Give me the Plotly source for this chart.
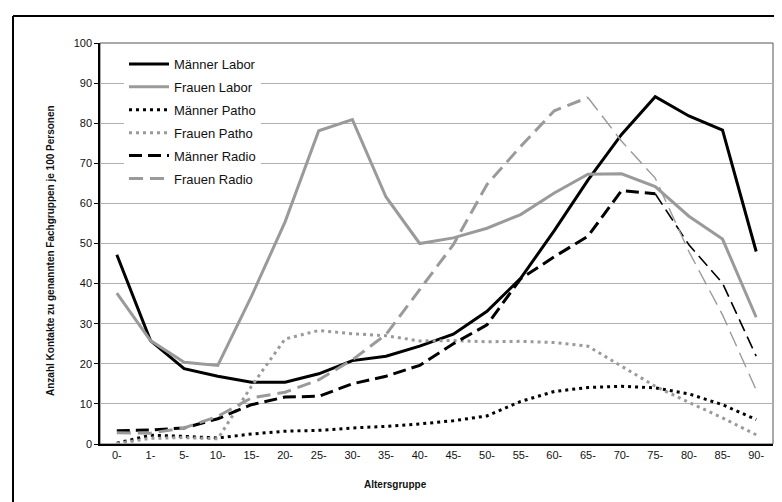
import plotly.graph_objects as go

categories = ["0-", "1-", "5-", "10-", "15-", "20-", "25-", "30-", "35-", "40-",
              "45-", "50-", "55-", "60-", "65-", "70-", "75-", "80-", "85-", "90-"]

maenner_labor = [47.2, 25.8, 18.8, 16.9, 15.4, 15.4, 17.5, 20.8, 21.9, 24.4,
                 27.4, 33.1, 41.3, 53.2, 65.8, 77.2, 86.6, 81.8, 78.3, 48.0]
frauen_labor = [37.6, 25.8, 20.4, 19.6, 36.8, 55.4, 78.1, 80.9, 61.6, 50.0,
                51.4, 53.8, 57.2, 62.6, 67.3, 67.4, 64.2, 56.8, 51.1, 31.6]
maenner_patho = [0.2, 2.2, 1.9, 1.5, 2.5, 3.2, 3.4, 4.0, 4.4, 5.0,
                 5.8, 7.0, 10.6, 13.1, 14.1, 14.4, 14.0, 12.5, 9.8, 6.1]
frauen_patho = [0.1, 1.4, 1.6, 1.3, 14.4, 26.2, 28.3, 27.5, 27.0, 25.7,
                25.8, 25.5, 25.6, 25.3, 24.4, 19.4, 14.4, 10.4, 6.5, 2.3]
maenner_radio = [3.3, 3.5, 4.0, 6.3, 9.8, 11.7, 11.9, 15.0, 16.9, 19.6,
                 25.0, 29.7, 41.2, 46.7, 51.8, 63.2, 62.4, 49.7, 40.1, 21.9]
frauen_radio = [2.8, 2.7, 4.0, 6.9, 11.5, 12.9, 16.0, 21.0, 27.3, 38.5,
                49.7, 64.7, 74.2, 83.1, 86.4, 75.5, 66.3, 48.0, 32.2, 13.5]

y_ticks = [0, 10, 20, 30, 40, 50, 60, 70, 80, 90, 100]

BLACK = "#000000"
GRAY = "#9a9a9a"
FONT = "Liberation Sans, Arial, sans-serif"

fig = go.Figure()

def add(name, y, color, width, dash, group, start=0, end=None, show=True):
    end = len(y) if end is None else end
    fig.add_trace(go.Scatter(
        x=categories[start:end], y=y[start:end], mode="lines", name=name,
        line=dict(color=color, width=width, dash=dash),
        legendgroup=group, showlegend=show, hoverinfo="x+y+name"))

add("Männer Labor", maenner_labor, BLACK, 3, "solid", "g1")
add("Frauen Labor", frauen_labor, GRAY, 3, "solid", "g2")
add("Männer Patho", maenner_patho, BLACK, 3, "3px,4px", "g3")
add("Frauen Patho", frauen_patho, GRAY, 3, "3px,4px", "g4")
add("Männer Radio", maenner_radio, BLACK, 3, "13px,6px", "g5", 0, 17)
add("Männer Radio", maenner_radio, BLACK, 1.6, "13px,6px", "g5", 16, None, False)
add("Frauen Radio", frauen_radio, GRAY, 3, "14px,7px", "g6", 0, 15)
add("Frauen Radio", frauen_radio, GRAY, 1.4, "16px,7px", "g6", 14, None, False)

L, R, T, B = 92, 765, 35, 436
W, H = R - L, B - T

def px(xp):
    return (xp - L) / W

def py(yp):
    return (B - yp) / H

fig.update_layout(
    width=782, height=502,
    margin=dict(l=L, r=782 - R, t=T, b=502 - B, pad=0),
    paper_bgcolor="white", plot_bgcolor="white",
    font=dict(family=FONT, size=11, color="#111111"),
    showlegend=True,
    legend=dict(
        x=px(116), y=py(41), xanchor="left", yanchor="top",
        bgcolor="white", borderwidth=0,
        font=dict(family=FONT, size=13, color="#111111"),
        tracegroupgap=3, itemwidth=40, traceorder="grouped",
    ),
    xaxis=dict(
        type="category", categoryorder="array", categoryarray=categories,
        range=[-0.5, len(categories) - 0.5],
        showgrid=False, zeroline=False,
        showline=True, linecolor=BLACK, linewidth=1.5,
        ticks="", tickfont=dict(family=FONT, size=11, color="#111111"),
    ),
    yaxis=dict(
        range=[0, 100], tickvals=y_ticks, ticktext=[str(v) for v in y_ticks],
        showgrid=True, gridcolor="#b0b0b0", gridwidth=1, zeroline=False,
        showline=True, linecolor=BLACK, linewidth=1.5,
        ticks="outside", ticklen=4, tickcolor=BLACK, tickwidth=1,
        tickfont=dict(family=FONT, size=11, color="#111111"),
    ),
    shapes=[
        dict(type="rect", xref="paper", yref="paper", x0=0, y0=0, x1=1, y1=1,
             line=dict(color="#555555", width=1), layer="below"),
        dict(type="line", xref="paper", yref="paper",
             x0=px(5), y0=py(8), x1=px(790), y1=py(8),
             line=dict(color=BLACK, width=2)),
        dict(type="line", xref="paper", yref="paper",
             x0=px(5), y0=py(8), x1=px(5), y1=py(510),
             line=dict(color=BLACK, width=2)),
    ],
    annotations=[
        dict(text="<b>Altersgruppe</b>", xref="paper", yref="paper",
             x=px(387), y=py(476), xanchor="center", yanchor="middle",
             showarrow=False, font=dict(family=FONT, size=10, color="#111111")),
        dict(text="<b>Anzahl Kontakte zu genannten Fachgruppen je 100 Personen</b>",
             xref="paper", yref="paper", x=px(42), y=py(243),
             xanchor="center", yanchor="middle", textangle=-90,
             showarrow=False, font=dict(family=FONT, size=10, color="#111111")),
    ],
)

fig.write_html("out.html")
